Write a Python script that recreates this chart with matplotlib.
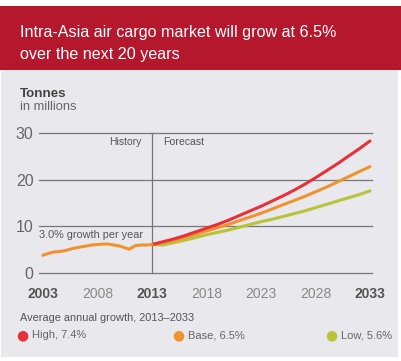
import matplotlib
matplotlib.use("Agg")
import matplotlib.pyplot as plt
from matplotlib.patches import Rectangle

plt.rcParams['font.family'] = ['Liberation Sans', 'DejaVu Sans']

# ---- data ----
hist_years = [2003.0, 2003.5, 2004.0, 2004.5, 2005.0, 2005.5, 2006.0, 2006.5, 2007.0,
              2007.5, 2008.0, 2008.5, 2009.0, 2009.5, 2010.0, 2010.5, 2010.9, 2011.5,
              2012.0, 2012.5, 2013.0]
hist_vals = [3.8, 4.2, 4.5, 4.6, 4.8, 5.1, 5.4, 5.6, 5.8,
             6.0, 6.1, 6.2, 6.2, 6.0, 5.8, 5.4, 5.1, 5.9,
             6.0, 6.0, 6.1]

fc_years = list(range(2013, 2034))
high_vals = [6.1, 6.7, 7.3, 8.0, 8.8, 9.6, 10.4, 11.3, 12.3, 13.3, 14.3,
             15.4, 16.5, 17.7, 19.0, 20.4, 21.9, 23.4, 25.0, 26.6, 28.3]
base_vals = [6.1, 6.5, 7.0, 7.6, 8.3, 9.0, 9.7, 10.4, 11.2, 12.0, 12.8,
             13.7, 14.6, 15.5, 16.4, 17.4, 18.4, 19.5, 20.6, 21.7, 22.8]
low_vals = [6.1, 6.0, 6.5, 7.0, 7.6, 8.2, 8.7, 9.2, 9.8, 10.4, 11.0,
            11.5, 12.1, 12.7, 13.3, 14.0, 14.7, 15.4, 16.1, 16.8, 17.6]

y_ticks = [0, 10, 20, 30]
x_ticks = [2003, 2008, 2013, 2018, 2023, 2028, 2033]
x_bold = [2003, 2013, 2033]

legend_labels = ["High, 7.4%", "Base, 6.5%", "Low, 5.6%"]

RED = "#e8303a"
ORANGE = "#f0922e"
GREEN = "#b7c437"

W, H = 401, 361
fig = plt.figure(figsize=(W / 100, H / 100), dpi=100)
fig.patch.set_facecolor("white")

def fx(x):
    return x / W

def fy(y):
    return 1 - y / H

# backgrounds
fig.patches.append(Rectangle((fx(1), fy(357)), fx(398) - fx(1), fy(70) - fy(357),
                             transform=fig.transFigure, facecolor="#e9e8ec",
                             edgecolor="none", zorder=-2))
fig.patches.append(Rectangle((0, fy(70)), 1, fy(6) - fy(70),
                             transform=fig.transFigure, facecolor="#b5172c",
                             edgecolor="none", zorder=-2))

fig.text(fx(20), fy(32), "Intra-Asia air cargo market will grow at 6.5%",
         color="white", fontsize=11.6, va="center", ha="left")
fig.text(fx(20), fy(54), "over the next 20 years",
         color="white", fontsize=11.6, va="center", ha="left")

fig.text(fx(20), fy(94), "Tonnes", color="#444444", fontsize=9.6,
         fontweight="bold", va="center", ha="left")
fig.text(fx(20), fy(107), "in millions", color="#666666", fontsize=9.3,
         va="center", ha="left")

ax = fig.add_axes([fx(39), fy(273), fx(372) - fx(39), fy(133) - fy(273)])
ax.set_facecolor("none")
xmin = 2003 - 4 / 10.9
xmax = xmin + 333 / 10.9
ax.set_xlim(xmin, xmax)
ax.set_ylim(0, 30)
for s in ax.spines.values():
    s.set_visible(False)

for yv in y_ticks:
    ax.axhline(yv, color="#777777", lw=0.9, zorder=1, clip_on=False)
ax.axvline(2013, color="#777777", lw=0.9, zorder=1, clip_on=False)

ax.plot(fc_years, low_vals, color=GREEN, lw=2.2, solid_capstyle="round", zorder=3)
ax.plot(fc_years, base_vals, color=ORANGE, lw=2.2, solid_capstyle="round", zorder=4)
ax.plot(fc_years, high_vals, color=RED, lw=2.2, solid_capstyle="round", zorder=5)
ax.plot(hist_years, hist_vals, color=ORANGE, lw=2.2, solid_capstyle="round", zorder=6)

ax.set_yticks(y_ticks)
ax.set_yticklabels([str(v) for v in y_ticks])
ax.tick_params(axis="y", length=0, pad=4, labelsize=11.5, labelcolor="#666666")
ax.set_xticks(x_ticks)
ax.set_xticklabels([str(v) for v in x_ticks])
ax.tick_params(axis="x", length=0, pad=10, labelsize=10)
for lab, yr in zip(ax.get_xticklabels(), x_ticks):
    if yr in x_bold:
        lab.set_fontweight("bold")
        lab.set_color("#555555")
    else:
        lab.set_color("#888888")

ax.text(2012.0, 28.0, "History", ha="right", va="center", fontsize=7.5,
        color="#555555")
ax.text(2014.0, 28.0, "Forecast", ha="left", va="center", fontsize=7.6,
        color="#555555")
ax.text(2002.6, 8.2, "3.0% growth per year", ha="left", va="center",
        fontsize=7.8, color="#555555")

fig.text(fx(20), fy(318), "Average annual growth, 2013\u20132033",
         color="#555555", fontsize=7.9, va="center", ha="left")

leg_colors = [RED, ORANGE, GREEN]
dot_x = [22, 178, 331]
for lbl, col, dx in zip(legend_labels, leg_colors, dot_x):
    fig.text(fx(dx), fy(335), "\u25cf", color=col, fontsize=10, va="center",
             ha="center", family="DejaVu Sans")
    fig.text(fx(dx + 10), fy(335), lbl, color="#666666", fontsize=8,
             va="center", ha="left")

fig.savefig("out.png", dpi=100)
